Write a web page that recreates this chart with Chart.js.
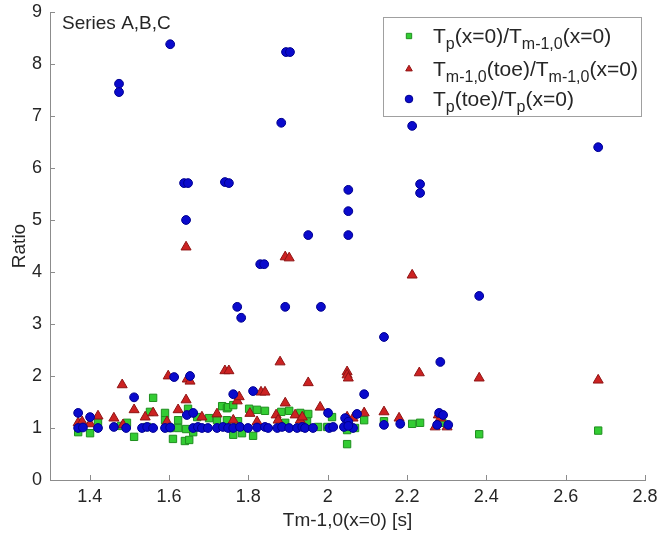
<!DOCTYPE html>
<html>
<head>
    <title>Ratio vs Tm-1,0(x=0)</title>
    <script src="https://cdn.jsdelivr.net/npm/chart.js"></script>
    <style>
        html, body { margin: 0; padding: 0; background: #fff; }
        #wrap { width: 660px; height: 534px; }
    </style>
</head>
<body>
    <div id="wrap"><canvas id="ratioChart" width="660" height="534"></canvas></div>

    <script>
        // axis ticks
        const xTickValues = [1.4, 1.6, 1.8, 2.0, 2.2, 2.4, 2.6, 2.8];
        const xTickLabels = ['1.4', '1.6', '1.8', '2', '2.2', '2.4', '2.6', '2.8'];
        const yTickValues = [0, 1, 2, 3, 4, 5, 6, 7, 8, 9];
        const yTickLabels = ['0', '1', '2', '3', '4', '5', '6', '7', '8', '9'];

        // Tp(x=0)/Tm-1,0(x=0)  [Tm-1,0(x=0), ratio]
        const tpOverTm = [
            [1.371, 1.02], [1.371, 0.92], [1.401, 0.90], [1.381, 1.05], [1.421, 1.10],
            [1.479, 1.04], [1.494, 1.10], [1.512, 0.83], [1.552, 1.31], [1.560, 1.58],
            [1.545, 1.02], [1.590, 1.29], [1.590, 1.15], [1.603, 1.00], [1.610, 0.79],
            [1.623, 1.15], [1.623, 1.00], [1.640, 0.75], [1.651, 0.77], [1.643, 0.98],
            [1.648, 1.37], [1.661, 0.92], [1.671, 1.21], [1.701, 1.19], [1.721, 1.15],
            [1.734, 1.42], [1.746, 1.38], [1.749, 1.40], [1.762, 1.44], [1.746, 1.15],
            [1.774, 1.13], [1.762, 0.87], [1.784, 0.90], [1.812, 0.85], [1.802, 1.37],
            [1.822, 1.35], [1.842, 1.33], [1.883, 1.31], [1.903, 1.33], [1.893, 1.10],
            [1.931, 1.29], [1.951, 1.27], [1.948, 1.12], [1.976, 1.02], [1.999, 1.02],
            [2.011, 1.21], [2.049, 1.00], [2.049, 0.96], [2.049, 0.69], [2.069, 1.00],
            [2.092, 1.15], [2.142, 1.13], [2.213, 1.08], [2.233, 1.10], [2.289, 1.10],
            [2.382, 0.88], [2.682, 0.95]
        ];

        // Tm-1,0(toe)/Tm-1,0(x=0)
        const tmToeOverTm = [
            [1.371, 1.10], [1.381, 1.12], [1.401, 1.08], [1.421, 1.23], [1.461, 1.19],
            [1.482, 1.83], [1.484, 1.06], [1.512, 1.35], [1.540, 1.21], [1.560, 1.29],
            [1.595, 1.12], [1.598, 2.00], [1.623, 1.35], [1.643, 1.54], [1.643, 4.48],
            [1.646, 1.94], [1.653, 1.90], [1.683, 1.21], [1.721, 1.27], [1.741, 2.10],
            [1.751, 2.10], [1.762, 1.15], [1.772, 1.52], [1.777, 1.60], [1.804, 1.28],
            [1.822, 1.12], [1.832, 1.69], [1.842, 1.69], [1.870, 1.25], [1.875, 1.15],
            [1.880, 2.27], [1.893, 1.48], [1.893, 4.29], [1.903, 4.27], [1.918, 1.25],
            [1.931, 1.15], [1.936, 1.21], [1.951, 1.87], [1.981, 1.40], [2.049, 2.08],
            [2.049, 2.02], [2.052, 1.96], [2.049, 1.21], [2.064, 1.19], [2.049, 1.06],
            [2.092, 1.29], [2.142, 1.31], [2.180, 1.19], [2.213, 3.94], [2.231, 2.06],
            [2.271, 1.02], [2.279, 1.25], [2.284, 1.19], [2.301, 1.02], [2.382, 1.96],
            [2.682, 1.92]
        ];

        // Tp(toe)/Tp(x=0)
        const tpToeOverTp = [
            [1.474, 7.62], [1.474, 7.46], [1.603, 8.38], [1.895, 8.23], [1.905, 8.23],
            [1.883, 6.87], [2.213, 6.81], [2.682, 6.40], [1.638, 5.71], [1.648, 5.71],
            [1.741, 5.73], [1.751, 5.71], [2.052, 5.58], [2.052, 5.17], [2.052, 4.71],
            [2.233, 5.69], [2.233, 5.52], [1.643, 5.00], [1.951, 4.71], [1.830, 4.15],
            [1.840, 4.15], [1.772, 3.33], [1.782, 3.12], [1.893, 3.33], [1.983, 3.33],
            [2.382, 3.54], [2.142, 2.75], [2.284, 2.27], [1.613, 1.98], [1.653, 2.00],
            [1.371, 1.29], [1.401, 1.21], [1.512, 1.59], [1.645, 1.25], [1.661, 1.29],
            [1.762, 1.65], [1.812, 1.71], [2.001, 1.29], [2.044, 1.19], [2.052, 1.12],
            [2.074, 1.27], [2.092, 1.65], [2.142, 1.06], [2.183, 1.08], [2.276, 1.06],
            [2.281, 1.29], [2.291, 1.25], [2.304, 1.06],
            [1.371, 1.00], [1.383, 1.01], [1.421, 1.00], [1.461, 1.02], [1.492, 1.00],
            [1.532, 1.00], [1.545, 1.02], [1.560, 1.00], [1.590, 1.00], [1.603, 1.01],
            [1.661, 1.00], [1.673, 1.02], [1.683, 1.00], [1.698, 1.00], [1.721, 1.00],
            [1.736, 1.02], [1.749, 1.00], [1.762, 1.00], [1.779, 1.02], [1.799, 1.00],
            [1.822, 1.01], [1.842, 1.02], [1.850, 1.00], [1.873, 1.00], [1.885, 1.02],
            [1.903, 1.00], [1.923, 1.00], [1.936, 1.02], [1.943, 1.00], [1.963, 1.00],
            [2.004, 1.00], [2.014, 1.02], [2.041, 1.02], [2.064, 1.00], [2.052, 1.04]
        ];

        const family = "'Liberation Sans', Arial, sans-serif";
        const textColor = '#262626';
        const axisColor = '#8c8c8c';

        const series = [
            { parts: [['T', 0], ['p', 1], ['(x=0)/T', 0], ['m-1,0', 1], ['(x=0)', 0]],
              points: tpOverTm, style: 'rect', radius: 5.2, fill: '#33cc33', line: '#1f8f1f', order: 3 },
            { parts: [['T', 0], ['m-1,0', 1], ['(toe)/T', 0], ['m-1,0', 1], ['(x=0)', 0]],
              points: tmToeOverTm, style: 'triangle', radius: 5.8, fill: '#cc2222', line: '#8f1414', order: 2 },
            { parts: [['T', 0], ['p', 1], ['(toe)/T', 0], ['p', 1], ['(x=0)', 0]],
              points: tpToeOverTp, style: 'circle', radius: 4.4, fill: '#0a0acc', line: '#000090', order: 1 }
        ];

        // inward tick marks, legend box and corner label
        const decorPlugin = {
            id: 'decor',
            afterDraw(chart) {
                const ctx = chart.ctx;
                const area = chart.chartArea;
                const xs = chart.scales.x, ys = chart.scales.y;
                ctx.save();
                ctx.strokeStyle = axisColor;
                ctx.lineWidth = 1;
                ctx.beginPath();
                xTickValues.forEach(v => {
                    const px = Math.round(xs.getPixelForValue(v)) + 0.5;
                    ctx.moveTo(px, area.bottom);
                    ctx.lineTo(px, area.bottom - 5);
                });
                yTickValues.forEach(v => {
                    const py = Math.round(ys.getPixelForValue(v)) + 0.5;
                    ctx.moveTo(area.left, py);
                    ctx.lineTo(area.left + 5, py);
                });
                ctx.stroke();

                ctx.fillStyle = textColor;
                ctx.font = '19px ' + family;
                ctx.textBaseline = 'alphabetic';
                ctx.fillText('Series A,B,C', 62, 29);

                // legend
                const box = { x: 383, y: 17, w: 258, h: 99 };
                ctx.fillStyle = '#fff';
                ctx.fillRect(box.x, box.y, box.w, box.h);
                ctx.strokeStyle = '#a0a0a0';
                ctx.strokeRect(box.x + 0.5, box.y + 0.5, box.w, box.h);
                const rows = [36, 69, 99];
                series.forEach((s, i) => {
                    const y = rows[i];
                    ctx.fillStyle = s.fill;
                    ctx.strokeStyle = s.line;
                    ctx.lineWidth = 1;
                    Chart.helpers.drawPoint(ctx, { pointStyle: s.style, radius: 3.8, rotation: 0, borderWidth: 1 }, 409, y);
                    let x = 433;
                    ctx.fillStyle = textColor;
                    s.parts.forEach(([txt, sub]) => {
                        ctx.font = (sub ? '16px ' : '21px ') + family;
                        ctx.fillText(txt, x, sub ? y + 13 : y + 7);
                        x += ctx.measureText(txt).width;
                    });
                });
                ctx.restore();
            }
        };

        const ctx = document.getElementById('ratioChart').getContext('2d');
        new Chart(ctx, {
            type: 'scatter',
            data: {
                datasets: series.map(s => ({
                    label: s.parts.map(p => p[0]).join(''),
                    data: s.points.map(p => ({ x: p[0], y: p[1] })),
                    pointStyle: s.style,
                    pointRadius: s.radius,
                    backgroundColor: s.fill,
                    borderColor: s.line,
                    borderWidth: 1,
                    order: s.order
                }))
            },
            options: {
                responsive: false,
                animation: false,
                layout: { padding: { top: 12, right: 15, left: 0, bottom: 0 } },
                plugins: {
                    legend: { display: false },
                    tooltip: { enabled: false }
                },
                scales: {
                    x: {
                        type: 'linear',
                        min: 1.3,
                        max: 2.8,
                        afterBuildTicks: s => { s.ticks = xTickValues.map(v => ({ value: v })); },
                        afterFit: s => { s.height = 54; s.paddingLeft = 0; s.paddingRight = 0; },
                        grid: { display: false, drawTicks: false },
                        border: { display: true, color: axisColor },
                        ticks: {
                            callback: (v, i) => xTickLabels[i],
                            font: { size: 18, family: family },
                            color: textColor,
                            padding: 6,
                            maxRotation: 0,
                            autoSkip: false
                        },
                        title: {
                            display: true,
                            text: 'Tm-1,0(x=0) [s]',
                            font: { size: 19, family: family },
                            color: textColor,
                            padding: { top: 0, bottom: 2 }
                        }
                    },
                    y: {
                        min: 0,
                        max: 9,
                        afterBuildTicks: s => { s.ticks = yTickValues.map(v => ({ value: v })); },
                        afterFit: s => { s.width = 50; s.paddingTop = 0; s.paddingBottom = 0; },
                        grid: { display: false, drawTicks: false },
                        border: { display: true, color: axisColor },
                        ticks: {
                            callback: (v, i) => yTickLabels[i],
                            font: { size: 18, family: family },
                            color: textColor,
                            padding: 8,
                            autoSkip: false
                        },
                        title: {
                            display: true,
                            text: 'Ratio',
                            font: { size: 19, family: family },
                            color: textColor,
                            padding: { top: 8, bottom: 0 }
                        }
                    }
                }
            },
            plugins: [decorPlugin]
        });
    </script>
</body>
</html>
